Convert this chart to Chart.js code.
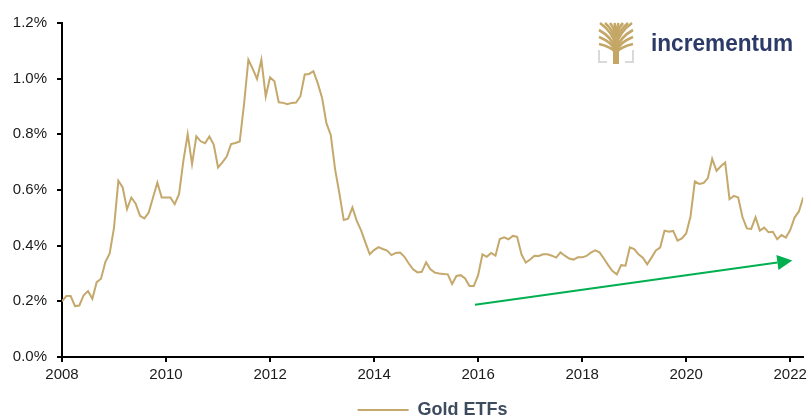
<!DOCTYPE html>
<html>
<head>
<meta charset="utf-8">
<script src="https://cdn.jsdelivr.net/npm/chart.js@4.4.1/dist/chart.umd.min.js"></script>
<style>
  html, body { margin: 0; padding: 0; background: #fff; }
  #wrap { width: 811px; height: 417px; }
</style>
</head>
<body>
<div id="wrap"><canvas id="myChart" width="811" height="417"></canvas></div>
<script>
// monthly share of gold ETFs, in percent, Jan 2008 .. Apr 2022
const startYear = 2008;
const goldEtfs = [
  0.200, 0.219, 0.219, 0.183, 0.185, 0.222, 0.237, 0.209, 0.269, 0.281, 0.341, 0.372, // 2008
  0.465, 0.633, 0.609, 0.531, 0.573, 0.551, 0.507, 0.498, 0.519, 0.573, 0.627, 0.573, // 2009
  0.573, 0.573, 0.549, 0.585, 0.705, 0.801, 0.693, 0.793, 0.775, 0.768, 0.792, 0.763, // 2010
  0.681, 0.699, 0.720, 0.765, 0.769, 0.774, 0.909, 1.068, 1.035, 0.999, 1.068, 0.936, // 2011
  1.005, 0.991, 0.915, 0.913, 0.908, 0.913, 0.914, 0.937, 1.015, 1.017, 1.027, 0.984, // 2012
  0.931, 0.840, 0.798, 0.675, 0.587, 0.492, 0.497, 0.537, 0.489, 0.455, 0.411, 0.369, // 2013
  0.384, 0.395, 0.388, 0.382, 0.366, 0.374, 0.375, 0.360, 0.336, 0.315, 0.304, 0.306, // 2014
  0.340, 0.315, 0.303, 0.300, 0.298, 0.297, 0.262, 0.291, 0.294, 0.282, 0.255, 0.255, // 2015
  0.294, 0.369, 0.360, 0.374, 0.364, 0.424, 0.430, 0.423, 0.435, 0.432, 0.369, 0.339, // 2016
  0.350, 0.364, 0.363, 0.369, 0.369, 0.364, 0.357, 0.376, 0.364, 0.354, 0.350, 0.358, // 2017
  0.358, 0.363, 0.375, 0.383, 0.376, 0.354, 0.330, 0.309, 0.297, 0.330, 0.328, 0.394, // 2018
  0.388, 0.369, 0.357, 0.333, 0.357, 0.383, 0.393, 0.454, 0.450, 0.453, 0.418, 0.426, // 2019
  0.444, 0.505, 0.631, 0.622, 0.625, 0.643, 0.712, 0.669, 0.685, 0.699, 0.567, 0.579, // 2020
  0.573, 0.502, 0.462, 0.460, 0.502, 0.454, 0.465, 0.448, 0.450, 0.423, 0.438, 0.429, // 2021
  0.456, 0.501, 0.523, 0.573                                                          // 2022
];
const tickYears = [2008, 2010, 2012, 2014, 2016, 2018, 2020, 2022];
// trend arrow: [year, percent]
const arrowStart = [2015.94, 0.188];
const arrowEnd = [2022.04, 0.347];

const points = goldEtfs.map((v, i) => ({ x: startYear + i / 12, y: v }));
const tickFont = { family: '"Liberation Sans", Arial, sans-serif', size: 15 };

const trendArrow = {
  id: 'trendArrow',
  afterDatasetsDraw(chart) {
    const { ctx, scales: { x, y } } = chart;
    const x0 = x.getPixelForValue(arrowStart[0]), y0 = y.getPixelForValue(arrowStart[1]);
    const x1 = x.getPixelForValue(arrowEnd[0]), y1 = y.getPixelForValue(arrowEnd[1]);
    const ang = Math.atan2(y1 - y0, x1 - x0);
    const head = 15, half = 7.5;
    ctx.save();
    ctx.strokeStyle = '#00B050';
    ctx.fillStyle = '#00B050';
    ctx.lineWidth = 2;
    ctx.beginPath();
    ctx.moveTo(x0, y0);
    ctx.lineTo(x1 - head * Math.cos(ang), y1 - head * Math.sin(ang));
    ctx.stroke();
    ctx.translate(x1, y1);
    ctx.rotate(ang);
    ctx.beginPath();
    ctx.moveTo(0, 0);
    ctx.lineTo(-head, -half);
    ctx.lineTo(-head, half);
    ctx.closePath();
    ctx.fill();
    ctx.restore();
  }
};

// incrementum logo, top right
const logo = {
  id: 'logo',
  afterDraw(chart) {
    const ctx = chart.ctx;
    ctx.save();
    ctx.fillStyle = '#D9D9D9';
    ctx.fillRect(598, 50, 2, 13);
    ctx.fillRect(598, 61, 9, 2);
    ctx.fillRect(632, 50, 2, 13);
    ctx.fillRect(625, 61, 9, 2);

    const gold = '#C4A766';
    ctx.fillStyle = gold;
    ctx.fillRect(613, 40, 6, 24);
    ctx.strokeStyle = gold;
    ctx.lineWidth = 2.6;
    const branches = [
      [616, 46, 600, 23], [616, 42, 605, 23], [616, 38, 610, 23], [616, 36, 614.5, 23],
      [616, 36, 618.5, 23], [616, 38, 623, 23], [616, 42, 628, 23], [616, 46, 632, 23],
      [615, 48, 599, 30], [615, 50, 599, 37], [615, 52, 599, 44],
      [617, 48, 633, 30], [617, 50, 633, 37], [617, 52, 633, 44]
    ];
    branches.forEach(([sx, sy, tx, ty]) => {
      ctx.beginPath();
      ctx.moveTo(sx, sy);
      ctx.quadraticCurveTo(sx + (tx - sx) * 0.2, ty + (sy - ty) * 0.4, tx, ty);
      ctx.stroke();
    });

    ctx.fillStyle = '#2B3A67';
    ctx.font = 'bold 23px "Liberation Sans", Arial, sans-serif';
    ctx.textBaseline = 'alphabetic';
    const w = ctx.measureText('incrementum').width;
    ctx.translate(651, 51);
    ctx.scale(142 / w, 1);
    ctx.fillText('incrementum', 0, 0);
    ctx.restore();
  }
};

new Chart(document.getElementById('myChart'), {
  type: 'line',
  data: {
    datasets: [{
      label: 'Gold ETFs',
      data: points,
      borderColor: '#C5A86B',
      backgroundColor: '#C5A86B',
      borderWidth: 2,
      pointRadius: 0,
      tension: 0,
      fill: false
    }]
  },
  options: {
    responsive: false,
    animation: false,
    layout: { padding: { top: 23, right: 6, bottom: -12, left: 0 } },
    plugins: {
      tooltip: { enabled: false },
      legend: {
        position: 'bottom',
        fullSize: false,
        labels: {
          usePointStyle: true,
          pointStyle: 'line',
          pointStyleWidth: 51,
          padding: 0,
          color: '#3D4B5F',
          font: { family: '"Liberation Sans", Arial, sans-serif', size: 18, weight: 'bold' }
        }
      }
    },
    scales: {
      x: {
        type: 'linear',
        min: 2008,
        max: 2022.25,
        border: { display: true, color: '#000', width: 2 },
        grid: { display: true, drawOnChartArea: false, drawTicks: true, tickLength: 5, color: '#000', lineWidth: 2 },
        ticks: { padding: 4, color: '#1a1a1a', font: tickFont, callback: v => String(v) },
        afterBuildTicks: s => { s.ticks = tickYears.map(v => ({ value: v })); },
        afterFit: s => { s.height = 44; }
      },
      y: {
        min: 0,
        max: 1.2,
        border: { display: true, color: '#000', width: 2 },
        grid: { display: true, drawOnChartArea: false, drawTicks: true, tickLength: 5, color: '#000', lineWidth: 2 },
        ticks: { stepSize: 0.2, padding: 10, color: '#1a1a1a', font: tickFont, callback: v => v.toFixed(1) + '%' },
        afterFit: s => { s.width = 62; }
      }
    }
  },
  plugins: [trendArrow, logo]
});
</script>
</body>
</html>
